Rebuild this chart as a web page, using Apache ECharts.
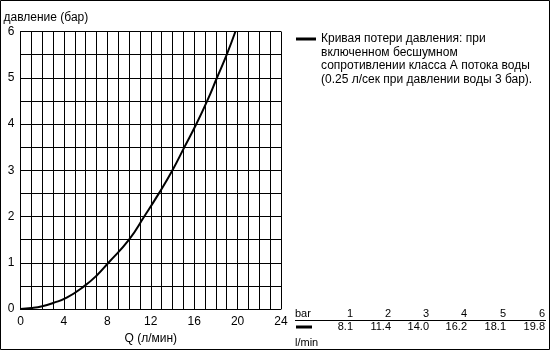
<!DOCTYPE html>
<html><head><meta charset="utf-8">
<script src="https://cdn.jsdelivr.net/npm/echarts@6/dist/echarts.min.js"></script>
<style>html,body{margin:0;padding:0;background:#fff}#c{width:550px;height:350px}</style>
</head><body><div id="c"></div>
<script>
// Curve data: flow Q (l/min) vs pressure (bar)
const flowQ = [0, 1, 2, 3, 4.3, 5.9, 7, 8.1, 10, 11.4, 12.75, 14.0, 15.1, 16.2, 17.2, 18.1, 19.0, 19.8];
const pressure = [0, 0.02, 0.06, 0.13, 0.25, 0.5, 0.72, 1, 1.5, 2, 2.5, 3, 3.5, 4, 4.5, 5, 5.5, 6];
// Table values
const tableBar = ['1', '2', '3', '4', '5', '6'];
const tableFlow = ['8.1', '11.4', '14.0', '16.2', '18.1', '19.8'];
const xTicks = [0, 4, 8, 12, 16, 20, 24];
const yTicks = [0, 1, 2, 3, 4, 5, 6];
const legendLines = ['Кривая потери давления: при', 'включенном бесшумном', 'сопротивлении класса А потока воды', '(0.25 л/сек при давлении воды 3 бар).'];

const FONT = 'Liberation Sans, Arial, sans-serif';
const chart = echarts.init(document.getElementById('c'), null, {renderer: 'canvas'});

const colRight = [353, 391, 429, 467, 506, 545];
const graphics = [
  {type: 'rect', shape: {x: 0.5, y: 0.5, width: 549, height: 349}, style: {fill: 'none', stroke: '#000', lineWidth: 1}, silent: true},
  {type: 'line', shape: {x1: 296, y1: 39, x2: 316, y2: 39}, style: {stroke: '#000', lineWidth: 3}},
  {type: 'text', left: 295, top: 308, style: {text: 'bar', font: '11px ' + FONT, fill: '#000'}},
  {type: 'line', shape: {x1: 295, y1: 320.5, x2: 546, y2: 320.5}, style: {stroke: '#000', lineWidth: 1}},
  {type: 'line', shape: {x1: 296, y1: 327, x2: 312, y2: 327}, style: {stroke: '#000', lineWidth: 3}},
  {type: 'text', left: 295, top: 337, style: {text: 'l/min', font: '11px ' + FONT, fill: '#000'}}
];
legendLines.forEach((t, i) => {
  graphics.push({type: 'text', x: 321, y: 39 + i * 13.5, style: {text: t, font: '12px ' + FONT, fill: '#000', textVerticalAlign: 'middle'}});
});
tableBar.forEach((t, i) => {
  graphics.push({type: 'text', x: colRight[i], y: 314, style: {text: t, font: '11px ' + FONT, fill: '#000', textAlign: 'right', textVerticalAlign: 'middle'}});
});
tableFlow.forEach((t, i) => {
  graphics.push({type: 'text', x: colRight[i], y: 327, style: {text: t, font: '11px ' + FONT, fill: '#000', textAlign: 'right', textVerticalAlign: 'middle'}});
});

chart.setOption({
  animation: false,
  backgroundColor: '#fff',
  textStyle: {fontFamily: FONT},
  grid: {left: 20.5, top: 31.5, width: 260.5, height: 281, containLabel: false},
  xAxis: {
    type: 'value', min: 0, max: 24, interval: 1,
    name: 'Q (л/мин)', nameLocation: 'middle', nameGap: 24,
    nameTextStyle: {color: '#000', fontSize: 12, fontFamily: FONT},
    axisLine: {show: true, lineStyle: {color: '#000', width: 1}},
    axisTick: {show: false},
    axisLabel: {color: '#000', fontSize: 12, fontFamily: FONT, margin: 7,
      formatter: v => xTicks.includes(v) ? String(v) : ''},
    splitLine: {show: true, lineStyle: {color: '#000', width: 1}}
  },
  yAxis: {
    type: 'value', min: 0, max: 6, interval: 0.5,
    name: 'давление (бар)', nameLocation: 'end', nameGap: 8,
    nameTextStyle: {color: '#000', fontSize: 12, fontFamily: FONT, align: 'left', padding: [0, 0, 0, -17]},
    axisLine: {show: true, lineStyle: {color: '#000', width: 1}},
    axisTick: {show: false},
    axisLabel: {color: '#000', fontSize: 12, fontFamily: FONT, margin: 6,
      formatter: v => yTicks.includes(v) ? String(v) : ''},
    splitLine: {show: true, lineStyle: {color: '#000', width: 1}}
  },
  series: [{
    type: 'line', smooth: true, showSymbol: false,
    data: flowQ.map((q, i) => [q, pressure[i]]),
    lineStyle: {color: '#000', width: 2},
    clip: false
  }],
  graphic: graphics
});
</script></body></html>
